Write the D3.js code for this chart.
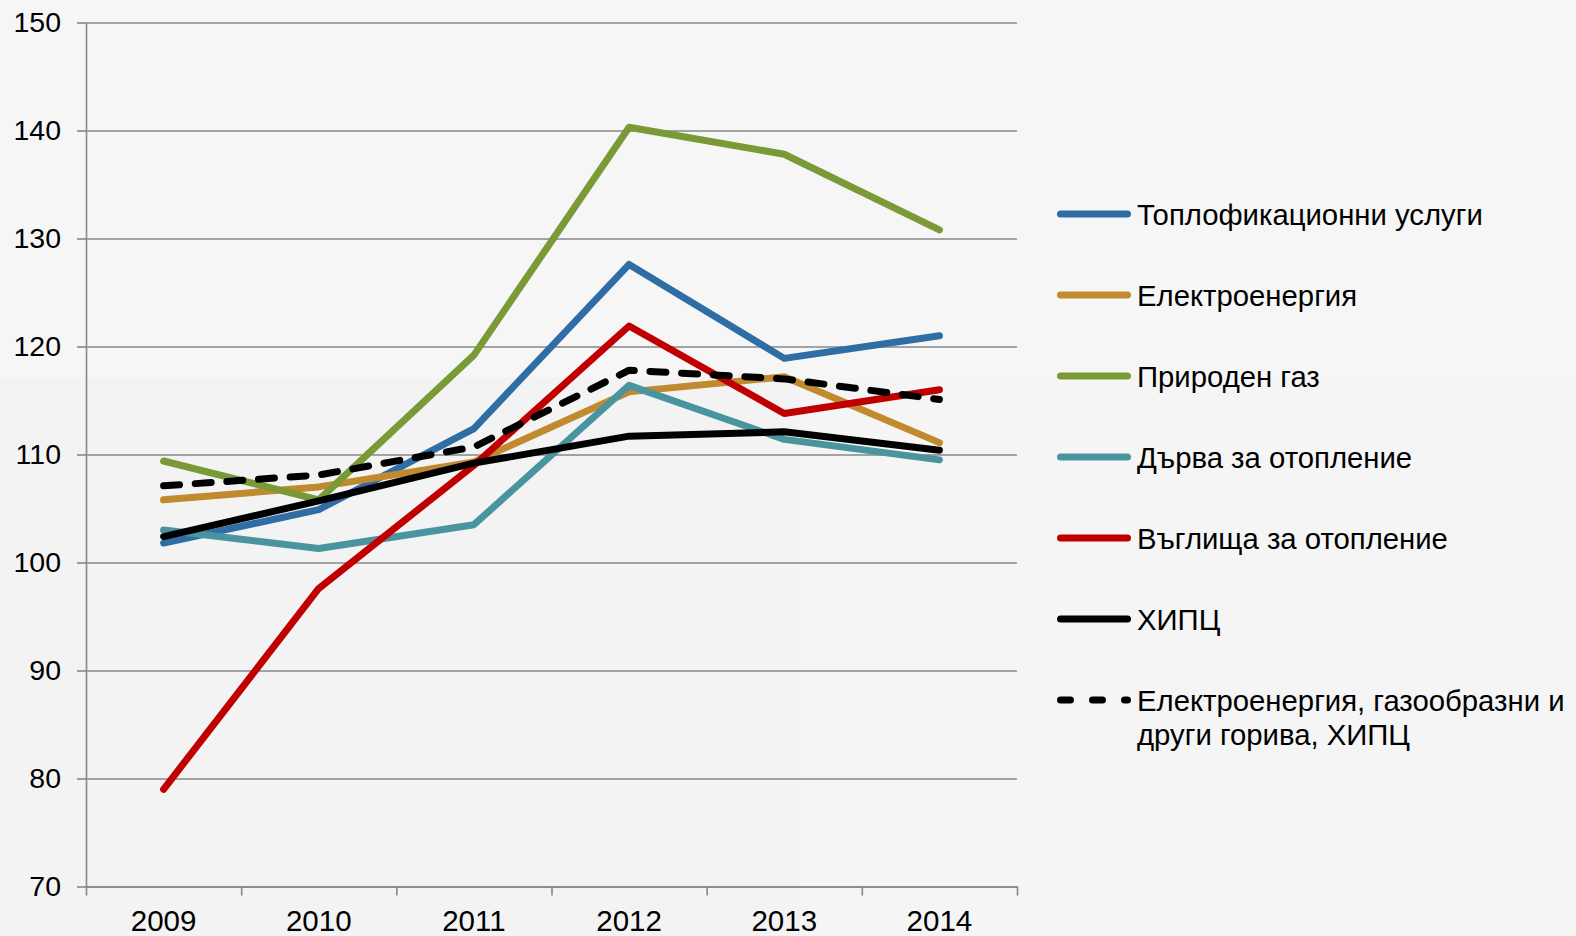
<!DOCTYPE html>
<html>
<head>
<meta charset="utf-8">
<script src="https://cdn.jsdelivr.net/npm/d3@7"></script>
<style>
  body { margin: 0; background: #f4f4f4; }
  svg { display: block; }
</style>
</head>
<body>
<svg></svg>
<script>
const years = ['2009', '2010', '2011', '2012', '2013', '2014'];
const yTicks = [70, 80, 90, 100, 110, 120, 130, 140, 150];

const seriesNames = [
  'Топлофикационни услуги',
  'Електроенергия',
  'Природен газ',
  'Дърва за отопление',
  'Въглища за отопление',
  'ХИПЦ',
  'Електроенергия, газообразни и други горива, ХИПЦ'
];
// the last legend entry wraps onto two lines
const lastNameLines = ['Електроенергия, газообразни и', 'други горива, ХИПЦ'];

const heating = [101.8, 104.9, 112.4, 127.6, 118.9, 121.0];
const electricity = [105.8, 107.0, 109.3, 115.8, 117.2, 111.1];
const naturalGas = [109.4, 105.8, 119.2, 140.3, 137.8, 130.8];
const firewood = [103.0, 101.3, 103.5, 116.4, 111.4, 109.5];
const coal = [79.0, 97.6, 109.0, 121.9, 113.8, 116.0];
const hicp = [102.4, 105.7, 109.2, 111.7, 112.1, 110.4];
const energyHicp = [107.1, 108.1, 110.7, 117.8, 117.0, 115.1];

const seriesValues = [heating, electricity, naturalGas, firewood, coal, hicp, energyHicp];
const seriesColors = ['#2e6ea4', '#c28a2f', '#7a9a37', '#4a949f', '#c00000', '#000000', '#000000'];
const seriesDash = [null, null, null, null, null, null, '16,15.7'];

const WIDTH = 1576;
const HEIGHT = 936;
const LEFT = 86;
const RIGHT = 1017;
const TOP = 22.5;
const BOTTOM = 886.5;
const FONT = '"Liberation Sans", Arial, sans-serif';

const svg = d3.select('svg')
  .attr('width', WIDTH)
  .attr('height', HEIGHT)
  .attr('font-family', FONT);

// paper-like background
svg.append('rect').attr('width', WIDTH).attr('height', HEIGHT).attr('fill', '#f3f3f3');
svg.append('rect').attr('width', WIDTH).attr('height', 378).attr('fill', '#f6f6f6');
svg.append('rect').attr('x', 800).attr('width', WIDTH - 800).attr('height', HEIGHT).attr('fill', '#f6f6f6').attr('opacity', 0.6);

const x = d3.scaleBand().domain(years).range([LEFT, RIGHT]);
const xEdge = d3.scaleLinear().domain([0, years.length]).range([LEFT, RIGHT]);
const y = d3.scaleLinear().domain([70, 150]).range([BOTTOM, TOP]);
const cx = d => x(d) + x.bandwidth() / 2;

// grid
const grid = svg.append('g')
  .attr('transform', `translate(${LEFT},0)`)
  .call(d3.axisLeft(y).tickValues(yTicks).tickSize(-(RIGHT - LEFT)).tickFormat(''));
grid.select('.domain').remove();
grid.selectAll('line').attr('stroke', '#878787').attr('stroke-width', 1.6);

// y axis
const yAxis = svg.append('g')
  .attr('transform', `translate(${LEFT},0)`)
  .call(d3.axisLeft(y).tickValues(yTicks).tickSize(9).tickPadding(16).tickSizeOuter(0));
yAxis.select('.domain').attr('stroke', '#878787').attr('stroke-width', 1.6);
yAxis.selectAll('line').attr('stroke', '#878787').attr('stroke-width', 1.6);
yAxis.selectAll('text').attr('font-size', 28.5).attr('fill', '#000').attr('font-family', FONT);

// x axis ticks at band edges
const xTicks = svg.append('g')
  .attr('transform', `translate(0,${BOTTOM})`)
  .call(d3.axisBottom(xEdge).tickValues(d3.range(years.length + 1)).tickSize(9).tickFormat('').tickSizeOuter(0));
xTicks.select('.domain').attr('stroke', '#878787').attr('stroke-width', 1.6);
xTicks.selectAll('line').attr('stroke', '#878787').attr('stroke-width', 1.6);

// x labels
const xAxis = svg.append('g')
  .attr('transform', `translate(0,${BOTTOM})`)
  .call(d3.axisBottom(x).tickSize(0).tickPadding(24));
xAxis.select('.domain').remove();
xAxis.selectAll('text').attr('font-size', 29.5).attr('fill', '#000').attr('font-family', FONT);

// lines
const line = d3.line()
  .x((d, i) => cx(years[i]))
  .y(d => y(d));

svg.append('g').selectAll('path')
  .data(seriesValues)
  .join('path')
  .attr('d', line)
  .attr('fill', 'none')
  .attr('stroke', (d, i) => seriesColors[i])
  .attr('stroke-width', 7)
  .attr('stroke-linejoin', 'round')
  .attr('stroke-linecap', 'round')
  .attr('stroke-dasharray', (d, i) => seriesDash[i]);

// legend
const legendY = [214, 295, 376, 457, 538, 619, 700];
const legend = svg.append('g').selectAll('g')
  .data(seriesNames)
  .join('g')
  .attr('transform', (d, i) => `translate(0,${legendY[i]})`);

legend.append('line')
  .attr('x1', 1060.5)
  .attr('x2', 1127.5)
  .attr('stroke', (d, i) => seriesColors[i])
  .attr('stroke-width', 7)
  .attr('stroke-linecap', 'round')
  .attr('stroke-dasharray', (d, i) => seriesDash[i] ? '10,22' : null);

legend.append('text')
  .attr('x', 1137)
  .attr('font-size', 29.3)
  .attr('fill', '#000')
  .each(function(d, i) {
    const t = d3.select(this);
    if (i === seriesNames.length - 1) {
      t.append('tspan').attr('x', 1137).attr('dy', '0.36em').text(lastNameLines[0]);
      t.append('tspan').attr('x', 1137).attr('dy', '1.17em').text(lastNameLines[1]);
    } else {
      t.attr('dy', '0.36em').text(d);
    }
  });
</script>
</body>
</html>
